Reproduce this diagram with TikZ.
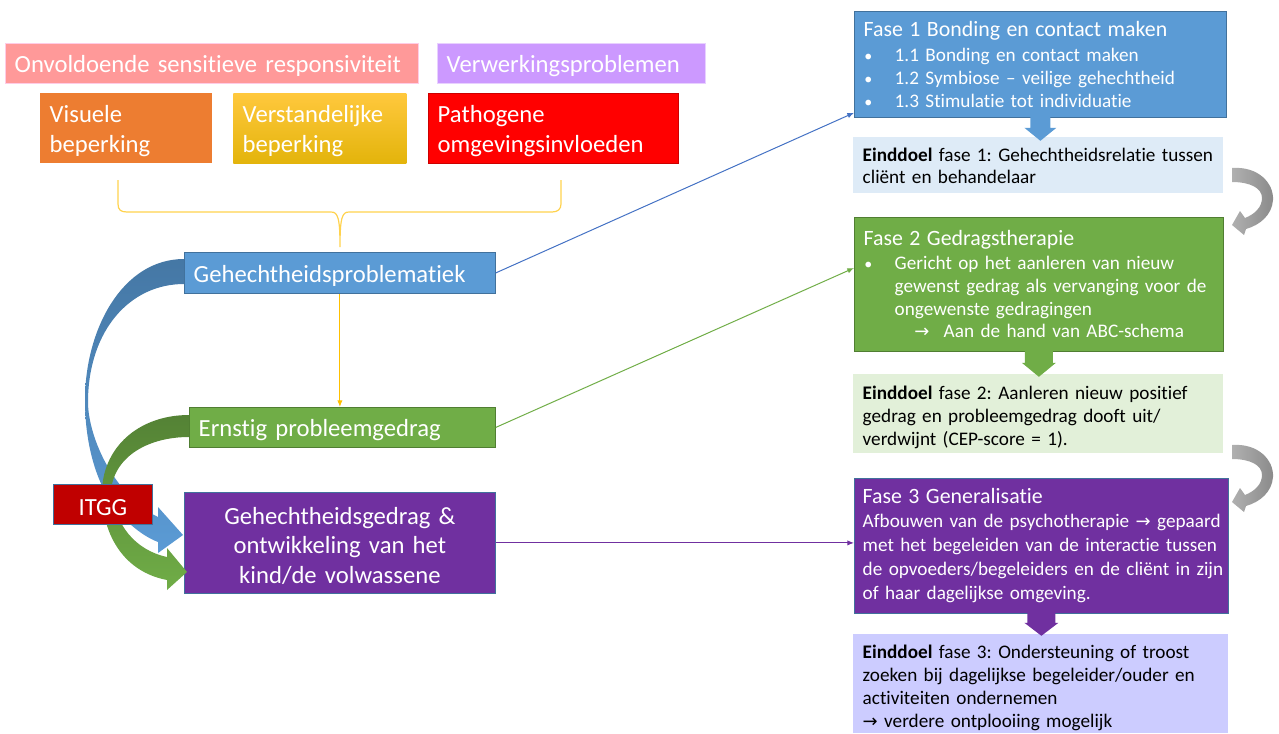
\documentclass[tikz,border=0pt]{standalone}
\usepackage{fontspec}
\setmainfont{Carlito}[Ligatures={TeX,NoCommon}]
\newfontfamily\arrowfont{DejaVu Sans}
\usetikzlibrary{arrows.meta,calc}
\definecolor{cblue}{HTML}{5B9BD5}
\definecolor{cblueb}{HTML}{41719C}
\definecolor{cgreen}{HTML}{70AD47}
\definecolor{cgreenb}{HTML}{507E32}
\definecolor{cgreend}{HTML}{548235}
\definecolor{cpurple}{HTML}{7030A0}
\definecolor{cred}{HTML}{C00000}
\definecolor{cpink}{HTML}{FF9999}
\definecolor{cpinkb}{HTML}{FFCCE6}
\definecolor{clilac}{HTML}{CC99FF}
\definecolor{clilacb}{HTML}{E8D0FF}
\definecolor{corange}{HTML}{ED7D31}
\definecolor{cyellowt}{HTML}{FFC83D}
\definecolor{cyellowb}{HTML}{E3B40B}
\definecolor{cbrightred}{HTML}{FF0000}
\definecolor{cbrace}{HTML}{FFD24D}
\definecolor{carrowy}{HTML}{FFC000}
\definecolor{cline}{HTML}{4472C4}
\definecolor{ceindA}{HTML}{DEEBF7}
\definecolor{ceindB}{HTML}{E2F0D9}
\definecolor{ceindC}{HTML}{CCCCFF}
\definecolor{cgrayl}{HTML}{B0B0B0}
\definecolor{cgrayd}{HTML}{8A8A8A}
\newcommand{\fbul}{\makebox[23.25pt][l]{\hspace*{0.5pt}{\fontsize{12}{12}\selectfont •}}}
\newcommand{\ftitle}{\fontsize{16.4}{17.25}\selectfont}
\newcommand{\farrow}{{\arrowfont\fontsize{13.5}{13.5}\selectfont →}}
\newcommand{\padL}{\rule{0pt}{17.3pt}}
\newcommand{\padR}{\rule{0pt}{15.5pt}}
\begin{document}
\frenchspacing
\begin{tikzpicture}[x=0.75pt,y=-0.75pt,
  box/.style={rectangle, anchor=north west, inner xsep=7pt, inner ysep=0pt, align=left, text=white, line width=0.6pt},
  lfont/.style={font=\fontsize{18.5}{22.3}\selectfont},
  rfont/.style={font=\fontsize{14.4}{17.25}\selectfont},
  conn/.style={line width=0.75pt, -{Latex[length=5pt,width=4pt]}},
]
\useasboundingbox (0,0) rectangle (1279,733);

% brace
\draw[cbrace, line width=0.9pt] (118,180) -- (118,204) .. controls (118,210) and (121,212) .. (127,212) -- (331,212) .. controls (338,212) and (340,218) .. (340,247) .. controls (340,218) and (342,212) .. (349,212) -- (552,212) .. controls (558,212) and (561,209) .. (561,204) -- (561,180);

% top boxes
\node[box, lfont, fill=cpink, draw=cpinkb, minimum width=309.75pt, minimum height=30pt, text width=295.75pt] (onv) at (5,43) {\rule{0pt}{17pt}Onvoldoende sensitieve responsiviteit};
\node[box, lfont, fill=clilac, draw=clilacb, minimum width=201pt, minimum height=30pt, text width=187pt] (verw) at (437,43) {\rule{0pt}{17pt}Verwerkingsproblemen};
\node[box, lfont, fill=corange, minimum width=129pt, minimum height=52.5pt, text width=115pt] (vis) at (40,93) {\padL Visuele\\beperking};
\node[box, lfont, top color=cyellowt, bottom color=cyellowb, minimum width=129.75pt, minimum height=52.5pt, text width=115.75pt] (verst) at (233,93) {\padL Verstandelijke\\beperking};
\node[box, lfont, fill=cbrightred, draw=cbrightred!80!black, minimum width=187.5pt, minimum height=52.5pt, text width=173.5pt] (path) at (428,93) {\padL Pathogene\\omgevingsinvloeden};

% left chain
\node[box, lfont, fill=cblue, draw=cblueb, minimum width=233.25pt, minimum height=30.75pt, text width=219.25pt] (geh) at (184,252) {\rule{0pt}{18pt}Gehechtheidsproblematiek};
\node[box, lfont, fill=cgreen, draw=cgreenb, minimum width=229.5pt, minimum height=30pt, text width=215.5pt] (ern) at (189,407) {\padL Ernstig probleemgedrag};
\node[box, lfont, fill=cpurple, draw=cblueb, minimum width=233.25pt, minimum height=75.75pt, text width=219.25pt, align=center] (gg) at (184,492) {\padL Gehechtheidsgedrag \&\\ontwikkeling van het\\kind/de volwassene};

% curved arrows
\path[top color=cblueb!85!cblue, bottom color=cblue] (184,259) .. controls (122,259) and (85,330) .. (85,400) .. controls (85,455) and (102,500) .. (130,524) .. controls (140,533) and (150,539) .. (158,542) -- (158,553) -- (183,535) -- (158,507) -- (158,517) .. controls (132,505) and (102,470) .. (91,425) .. controls (88,412) and (88,405) .. (88,400) .. controls (89,330) and (130,284) .. (184,284) -- cycle;
\path[top color=cgreend, bottom color=cgreen] (189,415) .. controls (145,415) and (110,440) .. (103,480) .. controls (98,520) and (115,570) .. (167,580) -- (167,590) -- (187,572) -- (167,548) -- (167,557) .. controls (135,550) and (115,525) .. (111,490) .. controls (115,455) and (150,437) .. (189,437) -- cycle;

\node[box, lfont, fill=cred, draw=cblueb, minimum width=74.25pt, minimum height=30pt, align=center, inner xsep=2pt] (itgg) at (53,484) {\padL ITGG};

% right column
\node[box, rfont, fill=cblue, draw=cblueb, minimum width=279pt, minimum height=79.5pt, text width=265pt] (f1) at (854,11) {{\ftitle Fase 1 Bonding en contact maken}\\[1.5pt]
\fbul 1.1 Bonding en contact maken\\
\fbul 1.2 Symbiose – veilige gehechtheid\\
\fbul 1.3 Stimulatie tot individuatie};
\node[box, font=\fontsize{14.4}{16.5}\selectfont, text=black, fill=ceindA, minimum width=277.5pt, minimum height=42pt, text width=263.5pt] (e1) at (853,137) {\mbox{\textbf{Einddoel} fase 1: Gehechtheidsrelatie tussen}\\cliënt en behandelaar};
\node[box, font=\fontsize{14.4}{17}\selectfont, fill=cgreen, draw=cgreenb, minimum width=276.75pt, minimum height=100.5pt, text width=262.75pt] (f2) at (854,217) {{\ftitle Fase 2 Gedragstherapie}\\[1pt]
\fbul Gericht op het aanleren van nieuw\\
\hspace*{23.25pt}\mbox{gewenst gedrag als vervanging voor de}\\
\hspace*{23.25pt}ongewenste gedragingen\\
\hspace*{38pt}\makebox[22pt][l]{\farrow}Aan de hand van ABC-schema};
\node[box, rfont, text=black, fill=ceindB, minimum width=277.5pt, minimum height=59.25pt, text width=263.5pt] (e2) at (853,374) {\padR\mbox{\textbf{Einddoel} fase 2: Aanleren nieuw positief}\\gedrag en probleemgedrag dooft uit/\\verdwijnt (CEP-score = 1).};
\node[box, font=\fontsize{14.4}{18}\selectfont, fill=cpurple, draw=cblueb, minimum width=280.5pt, minimum height=101.25pt, text width=268pt, inner xsep=6.25pt] (f3) at (854,478) {{\ftitle Fase 3 Generalisatie}\\
\mbox{Afbouwen van de psychotherapie \farrow{} gepaard}\\
\mbox{met het begeleiden van de interactie tussen}\\
\mbox{de opvoeders/begeleiders en de cliënt in zijn}\\
of haar dagelijkse omgeving.};
\node[box, rfont, text=black, fill=ceindC, minimum width=281.25pt, minimum height=74.25pt, text width=267.25pt] (e3) at (853,634) {\padR\mbox{\textbf{Einddoel} fase 3: Ondersteuning of troost}\\\mbox{zoeken bij dagelijkse begeleider/ouder en}\\activiteiten ondernemen\\\farrow{} verdere ontplooiing mogelijk};

% block arrows
\fill[cblue] ($(f1.south)+(-10,-2)$) -- ++(20,0) -- ++(0,12) -- ++(6,0) -- ++(-16,13) -- ++(-16,-13) -- ++(6,0) -- cycle;
\fill[cgreen] ($(f2.south)+(-14,-1)$) -- ++(28,0) -- ++(0,12) -- ++(3,0) -- ++(-17,14) -- ++(-17,-14) -- ++(3,0) -- cycle;
\fill[cpurple] ($(f3.south)+(-14,-1)$) -- ++(28,0) -- ++(0,10) -- ++(3,0) -- ++(-17,13) -- ++(-17,-13) -- ++(3,0) -- cycle;

% gray curved arrows
\path[left color=cgrayl, right color=cgrayd] (1232,168) .. controls (1258,166) and (1274,183) .. (1273,200) .. controls (1272,215) and (1260,225) .. (1246,229) -- (1244,235) -- (1232,225) -- (1240,211) -- (1245,218) .. controls (1255,214) and (1262,207) .. (1262,198) .. controls (1262,188) and (1250,182) .. (1232,182) -- cycle;
\begin{scope}[shift={(0,277)}]
\path[left color=cgrayl, right color=cgrayd] (1232,168) .. controls (1258,166) and (1274,183) .. (1273,200) .. controls (1272,215) and (1260,225) .. (1246,229) -- (1244,235) -- (1232,225) -- (1240,211) -- (1245,218) .. controls (1255,214) and (1262,207) .. (1262,198) .. controls (1262,188) and (1250,182) .. (1232,182) -- cycle;
\end{scope}

% connectors
\coordinate (f1in) at ($(f1.south west)+(0,-5)$);
\coordinate (f2in) at ($(f2.north west)+(0,51)$);
\draw[conn, carrowy] (geh.south) -- (geh.south |- ern.north);
\draw[conn, cline] (geh.east) -- (f1in);
\draw[conn, cgreen] (ern.east) -- (f2in);
\draw[conn, cpurple] (gg.east) -- (gg.east -| f3.west);
\end{tikzpicture}
\end{document}
